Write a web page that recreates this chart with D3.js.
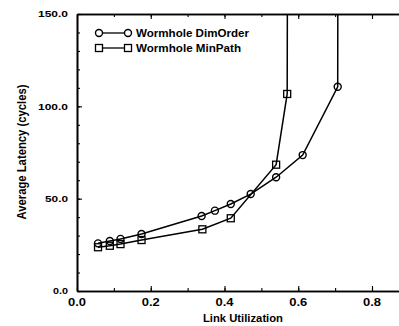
<!DOCTYPE html>
<html><head><meta charset="utf-8">
<script src="https://cdn.jsdelivr.net/npm/d3@7"></script>
<style>body{margin:0;background:#fff}svg{display:block}text{font-family:"Liberation Sans",Arial,sans-serif;font-weight:bold;fill:#000}</style>
</head><body>
<svg id="c" width="399" height="326"></svg>
<script>
const seriesNames = ["Wormhole DimOrder", "Wormhole MinPath"];
const dimOrderX = [0.057, 0.089, 0.118, 0.175, 0.338, 0.374, 0.417, 0.471, 0.540, 0.612, 0.707, 0.709];
const dimOrderY = [25.8, 27.1, 28.2, 30.9, 40.6, 43.5, 47.1, 52.5, 61.6, 73.6, 110.6, 400];
const minPathX = [0.057, 0.089, 0.118, 0.175, 0.340, 0.417, 0.540, 0.570, 0.573];
const minPathY = [23.7, 24.5, 25.4, 27.6, 33.4, 39.4, 68.4, 106.7, 400];
const xTickValues = [0, 0.2, 0.4, 0.6, 0.8];
const xTickLabels = ["0.0", "0.2", "0.4", "0.6", "0.8"];
const yTickValues = [0, 50, 100, 150];
const yTickLabels = ["0.0", "50.0", "100.0", "150.0"];
const xTitle = "Link Utilization";
const yTitle = "Average Latency (cycles)";

const svg = d3.select("#c");
const L = 77, T = 14, B = 291;
const x = d3.scaleLinear().domain([0, 1]).range([L, L + 368.75]);
const y = d3.scaleLinear().domain([0, 150]).range([B, T]);

svg.append("defs").append("clipPath").attr("id", "pc")
  .append("rect").attr("x", L).attr("y", T).attr("width", 400).attr("height", B - T);

// axes
const minorX = d3.range(0, 1.0001, 0.1);
const minorY = d3.range(0, 150.001, 10);
const gB = svg.append("g").attr("transform", `translate(0,${B})`)
  .call(d3.axisBottom(x).tickValues(minorX).tickSizeInner(-3).tickSizeOuter(0).tickFormat(""));
const gB2 = svg.append("g").attr("transform", `translate(0,${B})`)
  .call(d3.axisBottom(x).tickValues(xTickValues).tickSizeInner(-5).tickSizeOuter(0).tickFormat(""));
const gT = svg.append("g").attr("transform", `translate(0,${T})`)
  .call(d3.axisTop(x).tickValues(minorX).tickSizeInner(-3).tickSizeOuter(0).tickFormat(""));
const gT2 = svg.append("g").attr("transform", `translate(0,${T})`)
  .call(d3.axisTop(x).tickValues(xTickValues).tickSizeInner(-5).tickSizeOuter(0).tickFormat(""));
const gL = svg.append("g").attr("transform", `translate(${L},0)`)
  .call(d3.axisLeft(y).tickValues(minorY).tickSizeInner(-3).tickSizeOuter(0).tickFormat(""));
const gL2 = svg.append("g").attr("transform", `translate(${L},0)`)
  .call(d3.axisLeft(y).tickValues(yTickValues).tickSizeInner(-5).tickSizeOuter(0).tickFormat(""));
svg.selectAll(".domain").attr("stroke", "#000").attr("stroke-width", 1.6);
svg.selectAll(".tick line").attr("stroke", "#000").attr("stroke-width", 1.1);

// tick labels
const yW = {"0.0": 15, "50.0": 23, "100.0": 30, "150.0": 30};
yTickValues.forEach((v, i) => {
  svg.append("text").attr("x", 68).attr("y", y(v) + 3.3).attr("text-anchor", "end")
    .attr("font-size", 9.5).attr("textLength", yW[yTickLabels[i]]).attr("lengthAdjust", "spacingAndGlyphs")
    .text(yTickLabels[i]);
});
xTickValues.forEach((v, i) => {
  svg.append("text").attr("x", x(v)).attr("y", 305.5).attr("text-anchor", "middle")
    .attr("font-size", 11).attr("textLength", 18).attr("lengthAdjust", "spacingAndGlyphs")
    .text(xTickLabels[i]);
});
svg.append("text").attr("x", 243).attr("y", 321.5).attr("text-anchor", "middle")
  .attr("font-size", 11.5).attr("textLength", 80).attr("lengthAdjust", "spacingAndGlyphs").text(xTitle);
svg.append("text").attr("transform", "translate(26,152) rotate(-90)").attr("text-anchor", "middle")
  .attr("font-size", 12).attr("textLength", 135).attr("lengthAdjust", "spacingAndGlyphs").text(yTitle);

// data
const line = d3.line().x(d => x(d[0])).y(d => y(d[1]));
const plot = svg.append("g").attr("clip-path", "url(#pc)");
const dimData = dimOrderX.map((v, i) => [v, dimOrderY[i]]);
const minData = minPathX.map((v, i) => [v, minPathY[i]]);
[dimData, minData].forEach(d => {
  plot.append("path").datum(d).attr("d", line).attr("fill", "none").attr("stroke", "#000").attr("stroke-width", 1.5);
});
plot.selectAll("circle.m").data(dimData).join("circle").attr("class", "m")
  .attr("cx", d => x(d[0])).attr("cy", d => y(d[1])).attr("r", 3.5)
  .attr("fill", "none").attr("stroke", "#000").attr("stroke-width", 1.4);
plot.selectAll("rect.m").data(minData).join("rect").attr("class", "m")
  .attr("x", d => x(d[0]) - 3.5).attr("y", d => y(d[1]) - 3.5).attr("width", 7).attr("height", 7)
  .attr("fill", "none").attr("stroke", "#000").attr("stroke-width", 1.3);

// legend
const legY = [33, 48];
const legW = [113, 105];
seriesNames.forEach((name, i) => {
  const ly = legY[i];
  svg.append("line").attr("x1", 99).attr("x2", 128).attr("y1", ly).attr("y2", ly).attr("stroke", "#000").attr("stroke-width", 1.3);
  [99, 128].forEach(cx => {
    if (i === 0) svg.append("circle").attr("cx", cx).attr("cy", ly).attr("r", 3.5).attr("fill", "#fff").attr("stroke", "#000").attr("stroke-width", 1.4);
    else svg.append("rect").attr("x", cx - 3.5).attr("y", ly - 3.5).attr("width", 7).attr("height", 7).attr("fill", "#fff").attr("stroke", "#000").attr("stroke-width", 1.3);
  });
  svg.append("text").attr("x", 136).attr("y", ly + 3.7).attr("font-size", 10.5)
    .attr("textLength", legW[i]).attr("lengthAdjust", "spacingAndGlyphs").text(name);
});
</script>
</body></html>
